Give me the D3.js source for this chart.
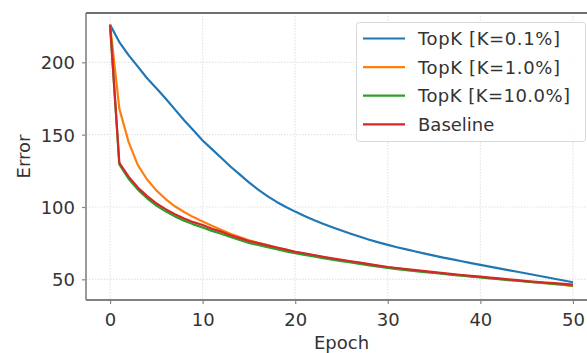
<!DOCTYPE html>
<html><head><meta charset="utf-8">
<script src="https://cdn.jsdelivr.net/npm/d3@7"></script>
<style>body{margin:0;background:#fff}svg{display:block}text{font-family:"DejaVu Sans",sans-serif;fill:#333}</style>
</head><body><svg id="c" width="587" height="353"></svg>
<script>
const epochs = d3.range(0, 51);
const seriesNames = ["TopK [K=0.1%]", "TopK [K=1.0%]", "TopK [K=10.0%]", "Baseline"];
const colors = ["#1f77b4", "#ff7f0e", "#2ca02c", "#d62728"];
const topk01 = [226,214,205,197,189,182,175,167.5,160,153,146,140,134,128,122.5,117,112,107.5,103.5,100,96.8,93.8,91,88.4,86,83.7,81.5,79.4,77.4,75.5,73.8,72.2,70.7,69.2,67.8,66.4,65,63.8,62.5,61.2,60,58.8,57.6,56.4,55.2,54,52.8,51.6,50.4,49.2,48];
const topk1 = [226,168,145,129,119,111.5,105.5,100.5,96.5,93,90,87,84.3,81.5,79.2,77,75.2,73.6,72,70.5,68.9,67.7,66.5,65.3,64.2,63.2,62.2,61.2,60.2,59.2,58.2,57.5,56.7,56,55.3,54.7,54,53.3,52.7,52.1,51.5,50.9,50.3,49.7,49.1,48.5,47.9,47.3,46.7,46.1,45.3];
const topk10 = [226,129.5,119.5,112,106,101,97,93.5,90.5,88,85.8,83.5,81.5,79.2,77.2,75.2,73.7,72.2,70.8,69.3,68,66.9,65.8,64.6,63.6,62.6,61.6,60.6,59.6,58.7,57.8,57.1,56.4,55.7,55,54.4,53.7,53.1,52.5,51.9,51.3,50.7,50.1,49.5,49,48.4,47.8,47.3,46.8,46.3,45.7];
const baseline = [226,130.5,121,113.5,107.5,102.5,98.5,95,92,89.5,87.5,85,83,80.5,78.5,76.5,75,73.5,72,70.5,69,68,66.8,65.6,64.5,63.5,62.5,61.5,60.5,59.5,58.5,57.8,57,56.3,55.6,55,54.3,53.6,53,52.4,51.8,51.2,50.6,50,49.4,48.8,48.3,47.8,47.3,46.8,46.3];
const xTicks = [0,10,20,30,40,50];
const yTicks = [50,100,150,200];
const allSeries = [topk01, topk1, topk10, baseline];

const FS = 18;
const svg = d3.select("#c");
const L = 86, R = 597, T = 13, B = 300;
const x = d3.scaleLinear().domain([-2.6, 52.6]).range([L, R]);
const y = d3.scaleLinear().domain([35.7, 234.1]).range([B, T]);

// grid
const g = svg.append("g");
g.selectAll(".gx").data(xTicks).join("line")
  .attr("x1", d=>x(d)).attr("x2", d=>x(d)).attr("y1", T).attr("y2", B)
  .attr("stroke", "#e4e4e4").attr("stroke-width", 1.2).attr("stroke-dasharray", "1.5,1.5");
g.selectAll(".gy").data(yTicks).join("line")
  .attr("y1", d=>y(d)).attr("y2", d=>y(d)).attr("x1", L).attr("x2", R)
  .attr("stroke", "#e4e4e4").attr("stroke-width", 1.2).attr("stroke-dasharray", "1.5,1.5");

// lines
const line = d3.line().x((d,i)=>x(epochs[i])).y(d=>y(d));
allSeries.forEach((s, i) => {
  svg.append("path").datum(s).attr("d", line).attr("fill", "none")
    .attr("stroke", colors[i]).attr("stroke-width", 2.2).attr("stroke-linejoin", "round");
});

// axes
const xAxis = d3.axisBottom(x).tickValues(xTicks).tickSize(4).tickPadding(9);
const yAxis = d3.axisLeft(y).tickValues(yTicks).tickSize(4).tickPadding(7);
const ax = svg.append("g").attr("transform", `translate(0,${B})`).call(xAxis);
const ay = svg.append("g").attr("transform", `translate(${L},0)`).call(yAxis);
[ax, ay].forEach(a => {
  a.select(".domain").remove();
  a.selectAll(".tick line").attr("stroke", "#888").attr("stroke-width", 1.2);
  a.selectAll(".tick text").attr("font-size", FS).attr("fill", "#333").style("font-family", "DejaVu Sans");
});
ay.selectAll(".tick text").attr("dy", "0.36em");
// spines
svg.append("line").attr("x1", L).attr("x2", L).attr("y1", T).attr("y2", B).attr("stroke", "#909090").attr("stroke-width", 1.8);
svg.append("line").attr("x1", L).attr("x2", R).attr("y1", B).attr("y2", B).attr("stroke", "#808080").attr("stroke-width", 1.8);
svg.append("line").attr("x1", L).attr("x2", R).attr("y1", T).attr("y2", T).attr("stroke", "#707070").attr("stroke-width", 2.2);
svg.append("line").attr("x1", R).attr("x2", R).attr("y1", T).attr("y2", B).attr("stroke", "#808080").attr("stroke-width", 1.8);

// axis labels
svg.append("text").attr("x", (L+R)/2).attr("y", 349).attr("text-anchor", "middle").attr("font-size", FS).text("Epoch");
svg.append("text").attr("transform", `translate(30,${(T+B)/2}) rotate(-90)`).attr("text-anchor", "middle").attr("font-size", FS).text("Error");

// legend
const lg = svg.append("g");
lg.append("rect").attr("x", 356.5).attr("y", 22.5).attr("width", 229).attr("height", 119).attr("rx", 3)
  .attr("fill", "#fff").attr("fill-opacity", 0.85).attr("stroke", "#d9d9d9").attr("stroke-width", 1);
seriesNames.forEach((n, i) => {
  const yy = 38.5 + i * 28.6;
  lg.append("line").attr("x1", 363).attr("x2", 405).attr("y1", yy).attr("y2", yy).attr("stroke", colors[i]).attr("stroke-width", 2.2);
  lg.append("text").attr("x", 418).attr("y", yy + 6.5).attr("font-size", FS).attr("textLength", 142).attr("lengthAdjust", "spacing").text(n);
});
lg.selectAll("text").filter((d,i)=>i===3).attr("textLength", null);
lg.selectAll("text").filter((d,i)=>i===2).attr("textLength", 152);
</script></body></html>
